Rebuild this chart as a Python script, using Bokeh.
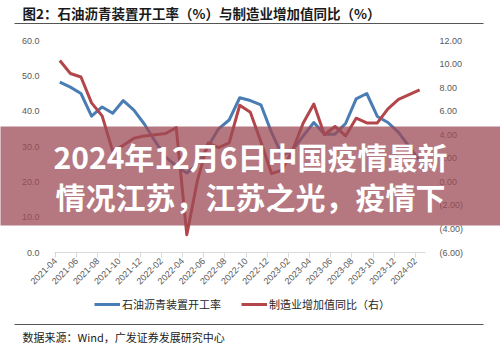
import math
from bokeh.plotting import figure
from bokeh.layouts import column
from bokeh.models import (Range1d, LinearAxis, FixedTicker, NumeralTickFormatter,
                          Label, BoxAnnotation, Legend, LegendItem)
from bokeh.embed import file_html
from bokeh.resources import INLINE

# ---------------- data ----------------
tick_labels = ["2021-04", "2021-06", "2021-08", "2021-10", "2021-12", "2022-02",
               "2022-04", "2022-06", "2022-08", "2022-10", "2022-12", "2023-02",
               "2023-04", "2023-06", "2023-08", "2023-10", "2023-12", "2024-02"]

# monthly, 2021-04 .. 2024-02 (left axis, %)
asphalt_rate = [48.2, 46.8, 45.0, 38.6, 41.2, 39.4, 43.0, 40.3, 36.3, 31.5,
                27.0, 24.5, 22.5, 25.0, 30.0, 35.0, 37.5, 43.8, 43.0, 41.8,
                34.0, 27.5, 29.0, 33.0, 36.8, 33.5, 33.5, 36.5, 43.5, 45.0,
                38.5, 36.8, 34.0, 30.0, 26.0]

# monthly, 2021-04 .. 2024-02 (right axis, %)
mfg_va_yoy = [10.3, 9.2, 8.9, 6.7, 5.6, 2.6, 3.1, 3.7, 3.9, 4.0,
              4.1, 4.6, -4.5, 0.1, 3.3, 2.9, 3.3, 6.5, 5.9, 3.4,
              0.7, 1.0, 2.7, 5.0, 6.6, 4.0, 4.7, 3.9, 5.4, 5.0,
              5.0, 6.2, 7.0, 7.4, 7.8]

left_ticks = [0, 10, 20, 30, 40, 50, 60]
right_ticks = [-6, -4, -2, 0, 2, 4, 6, 8, 10, 12]

title_text = "图2：石油沥青装置开工率（%）与制造业增加值同比（%）"
legend_labels = ["石油沥青装置开工率", "制造业增加值同比（右）"]
source_text = "数据来源：Wind，广发证券发展研究中心"
banner_lines = ["2024年12月6日中国疫情最新", "情况江苏，江苏之光，疫情下"]

# ---------------- layout ----------------
W, H = 500, 353
L, R, T, B = 54, 425, 40, 252
XR = (-0.1, 34.95)
YL = (0, 60)
YR = (-6, 12)

BLUE = "#4a7db4"
RED = "#b3464a"
AXIS_TXT = "#595959"
FONT = "Liberation Sans"
CJK = "Noto Sans CJK SC"

# ================= main chart =================
p = figure(width=W, height=H, output_backend="svg", toolbar_location=None,
           x_range=Range1d(*XR), y_range=Range1d(*YL),
           min_border_left=L, min_border_right=W - R,
           min_border_top=T, min_border_bottom=H - B,
           background_fill_color="white", border_fill_color="white",
           outline_line_color=None)
p.frame_align = False
p.grid.visible = False

xa = p.xaxis[0]
xa.ticker = FixedTicker(ticks=list(range(0, 2 * len(tick_labels), 2)))
xa.major_label_overrides = {2 * i: lab for i, lab in enumerate(tick_labels)}
xa.major_label_orientation = math.pi / 4
xa.axis_line_color = "#d9d9d9"
xa.major_tick_line_color = "#d9d9d9"
xa.major_tick_out = 5
xa.major_tick_in = 0
xa.minor_tick_line_color = None
xa.major_label_text_font = FONT
xa.major_label_text_font_size = "9px"
xa.major_label_text_color = AXIS_TXT
xa.major_label_standoff = 2

ya = p.yaxis[0]
ya.ticker = FixedTicker(ticks=left_ticks)
ya.formatter = NumeralTickFormatter(format="0.0")
ya.axis_line_color = None
ya.major_tick_line_color = None
ya.minor_tick_line_color = None
ya.major_label_text_font = FONT
ya.major_label_text_font_size = "9px"
ya.major_label_text_color = AXIS_TXT
ya.major_label_standoff = 9

p.extra_y_ranges = {"right": Range1d(*YR)}
ra = LinearAxis(y_range_name="right", ticker=FixedTicker(ticks=right_ticks),
                formatter=NumeralTickFormatter(format="(0.00)"))
ra.axis_line_color = None
ra.major_tick_line_color = None
ra.minor_tick_line_color = None
ra.major_label_text_font = FONT
ra.major_label_text_font_size = "9px"
ra.major_label_text_color = AXIS_TXT
ra.major_label_standoff = 8
p.add_layout(ra, "right")

xs = [i + 0.4 for i in range(len(asphalt_rate))]
r1 = p.line(xs, asphalt_rate, line_color=BLUE, line_width=3, line_join="round")
r2 = p.line(xs, mfg_va_yoy, line_color=RED, line_width=3, line_join="round",
            y_range_name="right")

# ================= overlay (page furniture + banner) =================
ov = figure(width=W, height=H, output_backend="svg", toolbar_location=None,
            x_range=Range1d(0, W), y_range=Range1d(0, H),
            x_axis_type=None, y_axis_type=None,
            min_border=0, min_border_left=0, min_border_right=0,
            min_border_top=0, min_border_bottom=0,
            background_fill_alpha=0, border_fill_alpha=0,
            outline_line_color=None,
            styles={"position": "absolute", "top": "0px", "left": "0px"})
ov.frame_align = False
ov.grid.visible = False


def gy(py):
    return H - py


ov.add_layout(Label(x=22, y=gy(12), text=title_text, text_align="left",
                    text_baseline="middle", text_font=CJK, text_font_size="13.5px",
                    text_font_style="bold", text_color="#1a1a1a"))
ov.add_layout(BoxAnnotation(left=14, right=483, top=gy(22.5), bottom=gy(23.5),
                            fill_color="#555555", fill_alpha=1, line_color=None))
ov.add_layout(BoxAnnotation(left=14, right=483, top=gy(323.5), bottom=gy(324.5),
                            fill_color="#555555", fill_alpha=1, line_color=None))
ov.add_layout(Label(x=22, y=gy(336), text=source_text, text_align="left",
                    text_baseline="middle", text_font=CJK, text_font_size="11px",
                    text_color="#1a1a1a"))

# legend: sample renderers with the chart's line styles, kept off-canvas
l1 = ov.line(x=[-20, -10], y=[-20, -20], line_color=BLUE, line_width=3)
l2 = ov.line(x=[-20, -10], y=[-20, -20], line_color=RED, line_width=3)
legend = Legend(items=[LegendItem(label=legend_labels[0], renderers=[l1]),
                       LegendItem(label=legend_labels[1], renderers=[l2])],
                orientation="horizontal", location=(94, gy(312)),
                label_text_font=CJK, label_text_font_size="11px",
                label_text_color="#262626",
                glyph_width=26, glyph_height=10, spacing=20, label_standoff=2,
                border_line_color=None, background_fill_alpha=0,
                margin=0, padding=3)
ov.add_layout(legend)

# banner
ov.add_layout(BoxAnnotation(left=-5, right=W + 5, top=gy(126), bottom=gy(225),
                            fill_color="#9e4b55", fill_alpha=0.75, line_color=None,
                            level="overlay"))
for txt, py in zip(banner_lines, [155, 195]):
    ov.add_layout(Label(x=250, y=gy(py), text=txt, text_align="center",
                        text_baseline="middle", text_font=CJK, text_font_size="30px",
                        text_font_style="bold", text_color="white", level="overlay"))

page = column(p, ov)
open("out.html", "w").write(file_html(page, INLINE))
